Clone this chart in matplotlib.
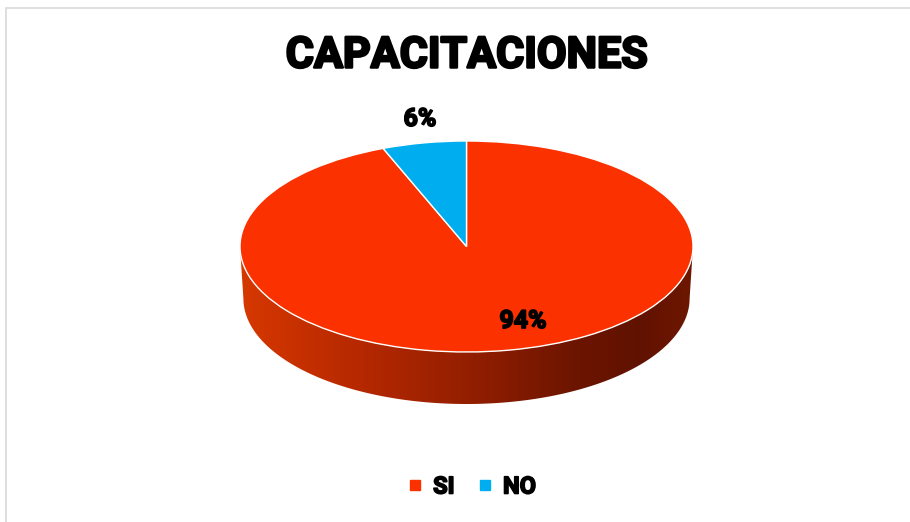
import matplotlib
matplotlib.use("Agg")
import matplotlib.pyplot as plt
import matplotlib.patheffects as pe
import numpy as np
from matplotlib.patches import Polygon, Rectangle
from matplotlib.lines import Line2D
from matplotlib.colors import LinearSegmentedColormap

# data
categorias = ["SI", "NO"]
valores = [94, 6]
colores = ["#FB3200", "#00AEEF"]
titulo = "CAPACITACIONES"

W, H = 910, 522
fig = plt.figure(figsize=(W / 100, H / 100), dpi=100)
fnt = ["Roboto", "DejaVu Sans"]
gordo = [pe.withStroke(linewidth=1.8, foreground="black")]
gordo_s = [pe.withStroke(linewidth=1.2, foreground="black")]

# pie axes: top ellipse from x 240..693, y 141..352, side depth ~52px
a_px, b_px, d_px = 226.5, 105.5, 52
cx, cy = 466.5, 246.5
depth = d_px / b_px
left = (cx - a_px) / W
bottom = (H - (cy + b_px + d_px)) / H
ax = fig.add_axes([left, bottom, 2 * a_px / W, (2 * b_px + d_px) / H])

# side (front half of the cylinder)
t = np.linspace(np.pi, 2 * np.pi, 200)
k = 0.985
top = np.column_stack([np.cos(t), np.sin(t)])
bot = np.column_stack([k * np.cos(t[::-1]), np.sin(t[::-1]) - depth])
side = Polygon(np.vstack([top, bot]), closed=True, facecolor="none", edgecolor="none")
ax.add_patch(side)
grad = LinearSegmentedColormap.from_list("lado", [
    (0.0, (0.84, 0.22, 0.0)),
    (0.25, (0.72, 0.16, 0.0)),
    (0.5, (0.58, 0.12, 0.0)),
    (0.75, (0.42, 0.08, 0.0)),
    (0.88, (0.38, 0.07, 0.0)),
    (1.0, (0.43, 0.09, 0.0)),
])
img = ax.imshow(np.linspace(0, 1, 256)[None, :], cmap=grad, aspect="auto",
                extent=[-1, 1, -1 - depth, 0], zorder=0)
img.set_clip_path(side)

wedges, _ = ax.pie(valores, colors=colores, startangle=90, counterclock=False,
                   wedgeprops=dict(edgecolor="white", linewidth=1.0))
ax.set_aspect("auto")
ax.set_xlim(-1, 1)
ax.set_ylim(-1 - depth, 1)
ax.axis("off")

# title
fig.text(cx / W, 1 - 56 / H, titulo, ha="center", va="center", fontsize=31,
         fontweight="bold", family=fnt, path_effects=gordo)

# data labels
fig.text(420 / W, 1 - 119 / H, f"{valores[1]}%", ha="center", va="center",
         fontsize=18, fontweight="bold", family=fnt, path_effects=gordo_s)
fig.text(523 / W, 1 - 321 / H, f"{valores[0]}%", ha="center", va="center",
         fontsize=18, fontweight="bold", family=fnt, path_effects=gordo_s)

# legend
handles = [Line2D([], [], marker="s", linestyle="none", markersize=7,
                  markerfacecolor=c, markeredgecolor=c) for c in colores]
leg = fig.legend(handles, categorias, loc="center", bbox_to_anchor=(471 / W, 1 - 487 / H),
                 ncol=2, frameon=False, handlelength=0.8, handletextpad=0.35,
                 columnspacing=0.9, prop=dict(family=fnt, weight="bold", size=17))
for txt in leg.get_texts():
    txt.set_path_effects(gordo_s)

# chart border
fig.patches.append(Rectangle((5.5 / W, -0.1), 1.2, 1.1 - 7.5 / H, transform=fig.transFigure,
                             fill=False, edgecolor="#D9D9D9", linewidth=1.2))

fig.savefig("out.png", dpi=100, facecolor="white")
